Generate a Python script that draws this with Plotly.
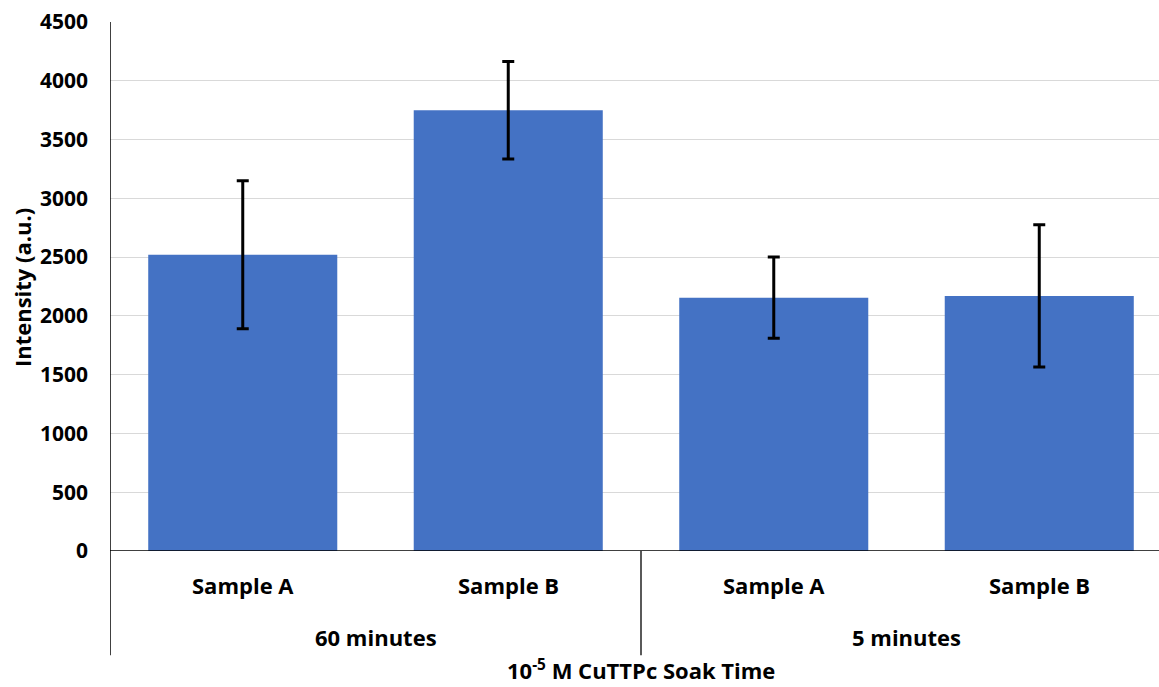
import plotly.graph_objects as go

groups = ["60 minutes", "5 minutes"]
samples = ["Sample A", "Sample B", "Sample A", "Sample B"]
intensity = [2520, 3750, 2155, 2170]
err = [630, 415, 345, 605]
y_title = "Intensity (a.u.)"
x_title = "10<sup>-5</sup> M CuTTPc Soak Time"
yticks = [0, 500, 1000, 1500, 2000, 2500, 3000, 3500, 4000, 4500]

FONT = "Open Sans"
FS = 22
xs = list(range(len(samples)))

def bf(size=FS):
    return dict(family=FONT, size=size, color="black", weight="bold")

fig = go.Figure()
fig.add_trace(go.Bar(
    x=xs, y=intensity, width=0.712,
    marker=dict(color="#4472C4", line=dict(width=0)),
    error_y=dict(type="data", array=err, visible=True, color="black",
                 thickness=3, width=6),
    showlegend=False, hoverinfo="skip",
))

fig.update_layout(
    width=1159, height=687,
    margin=dict(l=110, r=0, t=22, b=136),
    plot_bgcolor="white", paper_bgcolor="white",
    font=dict(family=FONT, color="black"),
    xaxis=dict(range=[-0.5, 3.451], showticklabels=False, showgrid=False,
               zeroline=False, showline=False),
    yaxis=dict(range=[0, 4500], tickvals=yticks, showgrid=True,
               gridcolor="#D9D9D9", gridwidth=1.3, zeroline=False,
               showline=False, ticks="", ticklabelstandoff=21,
               tickfont=bf(21)),
)

# axis lines
fig.add_shape(type="line", xref="paper", yref="y", x0=0, x1=1, y0=0, y1=0,
              line=dict(color="black", width=1.5))
fig.add_shape(type="line", xref="x", yref="paper", x0=-0.5, x1=-0.5, y0=1, y1=-0.197,
              line=dict(color="black", width=1.5))
fig.add_shape(type="line", xref="x", yref="paper", x0=1.5, x1=1.5, y0=0, y1=-0.197,
              line=dict(color="black", width=1.3))

for i, s in enumerate(samples):
    fig.add_annotation(x=i, xref="x", y=0, yref="paper", yshift=-34, yanchor="middle",
                       text=s, showarrow=False, font=bf())
for g, cx in zip(groups, [0.5, 2.5]):
    fig.add_annotation(x=cx, xref="x", y=0, yref="paper", yshift=-86, yanchor="middle",
                       text=g, showarrow=False, font=bf())

fig.add_annotation(x=1.5, xref="x", y=0, yref="paper", yshift=-136, yanchor="bottom",
                   text=x_title, showarrow=False, font=bf())
fig.add_annotation(x=0, xref="paper", xshift=-88, y=0.497, yref="paper",
                   text=y_title, textangle=-90, showarrow=False,
                   xanchor="center", yanchor="middle", font=bf())

fig.write_html("out.html")
